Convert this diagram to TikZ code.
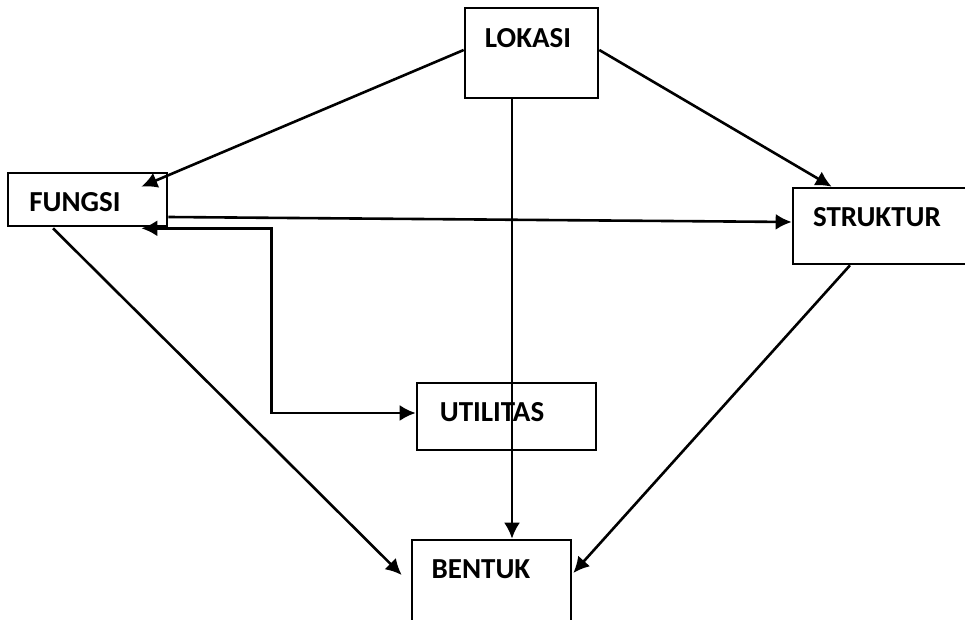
\documentclass[tikz,border=0pt]{standalone}
\usepackage{fontspec}
\setmainfont{Carlito}
\usetikzlibrary{arrows.meta,calc}

\tikzset{
  box/.style={draw, line width=1.3pt, rectangle, inner sep=0pt},
  lbl/.style={anchor=base, inner sep=0pt, font=\fontsize{14.5}{16}\selectfont\bfseries},
  tip/.tip={Latex[length=8pt,width=8pt]},
  arr/.style={line width=1.3pt, -tip},
  both/.style={line width=1.3pt, tip-tip}
}

\begin{document}
\begin{tikzpicture}[x=0.5pt, y=-0.5pt]
  \useasboundingbox (0,0) rectangle (965,620);
  \clip (0,0) rectangle (965,620);

  % boxes
  \node[box, minimum width=66.5pt, minimum height=45pt]   (lok) at (531.5,53)  {};
  \node[box, minimum width=79.5pt, minimum height=26.5pt] (fun) at (87.5,199.5) {};
  \node[box, minimum width=91pt,   minimum height=38pt]   (str) at (884,226)   {};
  \node[box, minimum width=89.5pt, minimum height=33.5pt] (uti) at (506.5,416.5) {};
  \node[box, minimum width=79.5pt, minimum height=50pt]   (ben) at (491.5,590) {};

  % labels
  \node[lbl] (tlok) at (528,48)  {LOKASI};
  \node[lbl] (tfun) at (75,212)  {FUNGSI};
  \node[lbl] (tstr) at (877,227) {STRUKTUR};
  \node[lbl] (tuti) at (492,422) {UTILITAS};
  \node[lbl] (tben) at (481,578) {BENTUK};

  % connectors
  \coordinate (funin)  at ($(fun.north east)+(-27,15)$);
  \coordinate (funin2) at ($(fun.south east)+(-27,1)$);
  \coordinate (bend)   at ($(uti.west)+(-144,-3.5)$);

  \draw[arr] ($(lok.west)+(0,-3)$) -- (funin);
  \draw[arr] ($(lok.east)+(0,-3)$) -- ($(str.north west)+(40,0)$);
  \draw[arr] ($(lok.south)+(-19.5,0)$) -- ($(ben.north)+(20.5,0)$);
  \draw[arr] ($(fun.east)+(0,17.5)$) -- ($(str.west)+(0,-4)$);
  \draw[both] (funin2) -| (bend) -- ($(uti.west)+(0,-3.5)$);
  \draw[arr] ($(fun.south)+(-34.5,1)$) -- ($(ben.west)+(-9,-15)$);
  \draw[arr] ($(str.south)+(-34,0)$) -- ($(ben.east)+(1,-17)$);
\end{tikzpicture}
\end{document}
